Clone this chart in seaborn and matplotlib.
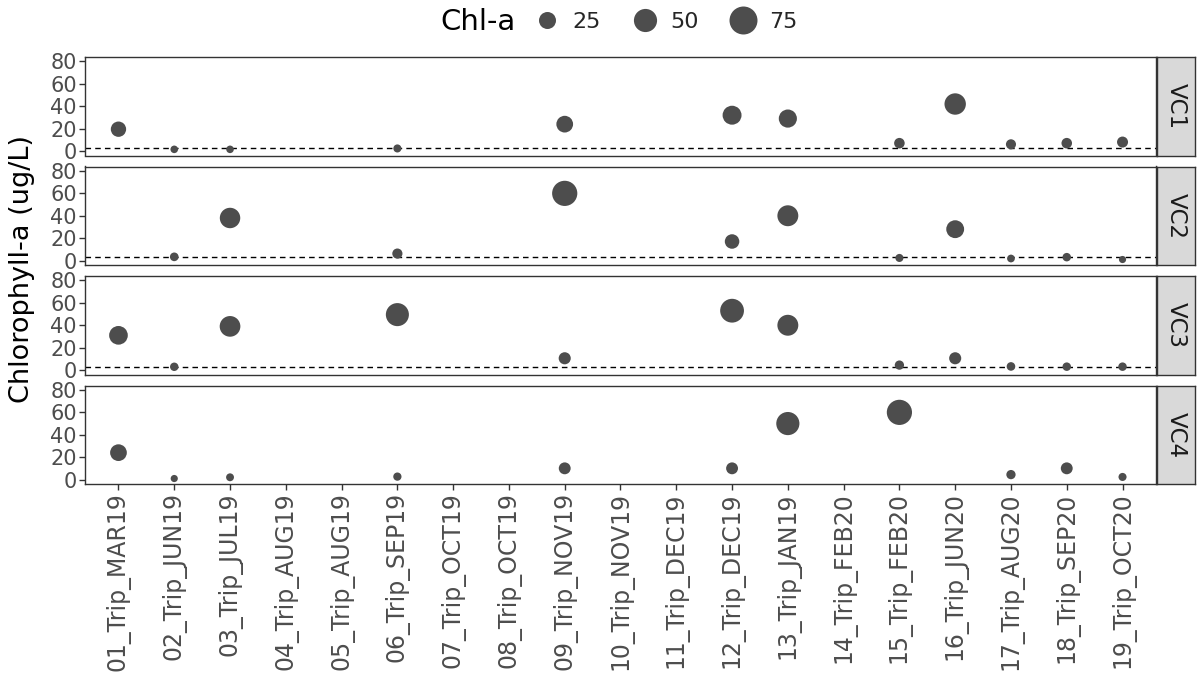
import numpy as np
import pandas as pd
import seaborn as sns
import matplotlib.pyplot as plt
from matplotlib.lines import Line2D

##-----Data-----##
trips = ['01_Trip_MAR19', '02_Trip_JUN19', '03_Trip_JUL19', '04_Trip_AUG19', '05_Trip_AUG19',
         '06_Trip_SEP19', '07_Trip_OCT19', '08_Trip_OCT19', '09_Trip_NOV19', '10_Trip_NOV19',
         '11_Trip_DEC19', '12_Trip_DEC19', '13_Trip_JAN19', '14_Trip_FEB20', '15_Trip_FEB20',
         '16_Trip_JUN20', '17_Trip_AUG20', '18_Trip_SEP20', '19_Trip_OCT20']
sites = ['VC1', 'VC2', 'VC3', 'VC4']
nan = np.nan
vc1 = [19.5, 1.5, 1.5, nan, nan, 2.3, nan, nan, 24, nan, nan, 32, 29, nan, 7, 42, 6, 7, 8]
vc2 = [nan, 3.3, 38, nan, nan, 6.2, nan, nan, 60, nan, nan, 17, 40, nan, 2.3, 28, 1.8, 3, 0.9]
vc3 = [31, 2.9, 39, nan, nan, 49.5, nan, nan, 10.5, nan, nan, 53, 40, nan, 4.4, 10.5, 3.2, 3, 3]
vc4 = [24, 0.9, 2, nan, nan, 2.6, nan, nan, 10, nan, nan, 10, 50, nan, 60, nan, 4.4, 10, 2.3]
threshold = [3, 3, 3, None]   # dashed reference line, not drawn for VC4
legend_vals = [25, 50, 75]

df = pd.DataFrame({'trip': trips * 4,
                   'pos': list(range(len(trips))) * 4,
                   'site': np.repeat(sites, len(trips)),
                   'chl': vc1 + vc2 + vc3 + vc4}).dropna()

##-----Style-----##
sns.set_theme(style='white')
plt.rcParams['font.family'] = ['DejaVu Sans']
pt_col = '#4D4D4D'
frame_col = '#333333'
sizes = (22, 406)
size_norm = (0, 75)

W, H = 1198, 696
fig = plt.figure(figsize=(W / 100, H / 100), dpi=100)

left, right = 85, 1156
top, bottom = 57, 484
gap = 11
ph = (bottom - top - 3 * gap) / 4

for i, site in enumerate(sites):
    y0 = top + i * (ph + gap)
    ax = fig.add_axes([left / W, 1 - (y0 + ph) / H, (right - left) / W, ph / H])
    sub = df[df['site'] == site]
    sns.scatterplot(data=sub, x='pos', y='chl', size='chl', sizes=sizes, size_norm=size_norm,
                    color=pt_col, linewidth=0, legend=False, ax=ax, zorder=3)
    if threshold[i] is not None:
        ax.axhline(threshold[i], color='black', lw=1, ls=(0, (4, 3)), zorder=2)
    ax.set_xlim(-0.6, len(trips) - 0.4)
    ax.set_ylim(-4, 84)
    ax.set_yticks([0, 20, 40, 60, 80])
    ax.set_xticks(range(len(trips)))
    ax.set_xlabel('')
    ax.set_ylabel('')
    ax.tick_params(axis='y', labelsize=15, labelcolor=pt_col, length=4, width=1,
                   color=frame_col, left=True, pad=2)
    if i < 3:
        ax.tick_params(axis='x', bottom=False, labelbottom=False)
    else:
        ax.set_xticklabels(trips, rotation=90, fontsize=17, color=pt_col)
        ax.tick_params(axis='x', length=4, width=1, color=frame_col, bottom=True, pad=2)
    for s in ax.spines.values():
        s.set_color(frame_col)
        s.set_linewidth(1)
    ax.grid(False)

    # facet strip on the right
    sax = fig.add_axes([(right + 1) / W, 1 - (y0 + ph) / H, (1195 - right - 1) / W, ph / H])
    sax.set_facecolor('#D9D9D9')
    sax.set_xticks([])
    sax.set_yticks([])
    for s in sax.spines.values():
        s.set_color(frame_col)
        s.set_linewidth(1)
    sax.text(0.5, 0.5, site, rotation=270, ha='center', va='center', fontsize=16.5,
             color='#1A1A1A', transform=sax.transAxes)

fig.text(22 / W, 1 - 269 / H, 'Chlorophyll-a (ug/L)', rotation=90, ha='center', va='center',
         fontsize=19.5, color='black')

##-----Size legend-----##
fig.text(440 / W, 1 - 22 / H, 'Chl-a', ha='left', va='center', fontsize=21, color='black')
handles = [Line2D([], [], ls='', marker='o', color=pt_col, markeredgewidth=0,
                  markersize=np.sqrt(sizes[0] + (sizes[1] - sizes[0]) * v / size_norm[1]))
           for v in legend_vals]
fig.legend(handles, [str(v) for v in legend_vals], loc='center left',
           bbox_to_anchor=(531 / W, 1 - 22 / H), ncol=3, frameon=False, fontsize=16,
           handletextpad=0.45, columnspacing=1.3, handlelength=1.4, borderpad=0, borderaxespad=0)

plt.savefig('out.png', dpi=100)
